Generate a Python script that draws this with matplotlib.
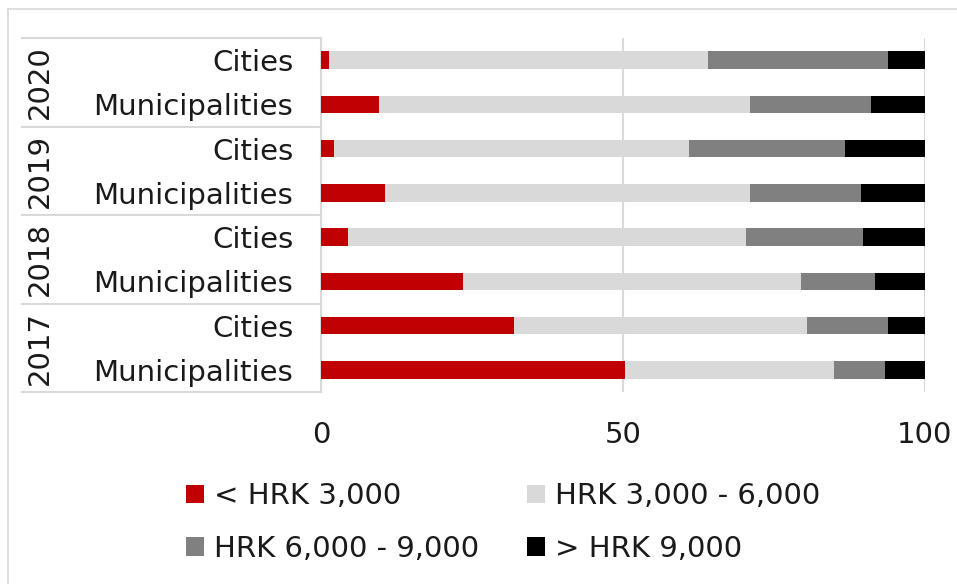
import matplotlib
matplotlib.use("Agg")
import matplotlib.pyplot as plt
from matplotlib.patches import Patch
from matplotlib.lines import Line2D

plt.rcParams['font.family'] = ['DejaVu Sans']

years = ["2020", "2019", "2018", "2017"]
types = ["Cities", "Municipalities"]
series_names = ["< HRK 3,000", "HRK 3,000 - 6,000", "HRK 6,000 - 9,000", "> HRK 9,000"]
colors = ["#c00000", "#d9d9d9", "#808080", "#000000"]

# rows top -> bottom: 2020 Cities, 2020 Munic, 2019 Cities, ...
below_3000 = [1.4, 9.6, 2.2, 10.6, 4.5, 23.5, 31.9, 50.3]
from_3000_6000 = [62.6, 61.4, 58.7, 60.4, 65.8, 55.9, 48.5, 34.7]
from_6000_9000 = [29.8, 20.1, 25.8, 18.4, 19.5, 12.4, 13.4, 8.4]
above_9000 = [6.2, 8.9, 13.3, 10.6, 10.2, 8.2, 6.2, 6.6]
series = [below_3000, from_3000_6000, from_6000_9000, above_9000]

W, H = 957, 584
FS = 21
fig = plt.figure(figsize=(W / 100, H / 100), dpi=100)

def fx(px):
    return px / W

def fy(py):
    return 1 - py / H

# outer border (top and left visible)
fig.add_artist(Line2D([fx(8), 1], [fy(9), fy(9)], color="#d9d9d9", lw=1.2))
fig.add_artist(Line2D([fx(8), fx(8)], [fy(9), 0], color="#d9d9d9", lw=1.2))

ax = fig.add_axes([fx(321), fy(392), fx(925) - fx(321), fy(38) - fy(392)])

n = len(below_3000)
ypos = list(range(n))
left = [0.0] * n
for vals, c, name in zip(series, colors, series_names):
    ax.barh(ypos, vals, left=left, height=0.4, color=c, label=name, zorder=3)
    left = [l + v for l, v in zip(left, vals)]

ax.set_ylim(n - 0.5, -0.5)
ax.set_xlim(0, 100)
ax.set_xticks([0, 50, 100])
ax.set_xticklabels(["0", "50", "100"])
row_labels = [t for y in years for t in types]
ax.set_yticks(ypos)
ax.set_yticklabels(row_labels)
ax.tick_params(axis='both', length=0, labelsize=FS)
ax.tick_params(axis='x', pad=21)
ax.tick_params(axis='y', pad=20)
for lbl in ax.get_yticklabels() + ax.get_xticklabels():
    lbl.set_color("#1a1a1a")
ax.grid(axis='x', color="#d9d9d9", lw=1.5, zorder=0)
for s in ["top", "right", "bottom"]:
    ax.spines[s].set_visible(False)
ax.spines["left"].set_color("#d9d9d9")
ax.spines["left"].set_linewidth(1.5)

# group separators and year labels
xl = (22 - 321) / (925 - 321)
trans = ax.get_yaxis_transform()
for g in range(len(years) + 1):
    yb = g * 2 - 0.5
    ax.plot([xl, 0], [yb, yb], transform=trans, color="#d9d9d9", lw=1.5, clip_on=False)
for g, yr in enumerate(years):
    ax.text((40 - 321) / (925 - 321), g * 2 + 0.5, yr, transform=trans, rotation=90,
            ha="center", va="center", fontsize=FS, color="#1a1a1a")

handles = [Patch(facecolor=c, edgecolor="none") for c in colors]
order = [0, 2, 1, 3]
fig.legend([handles[i] for i in order], [series_names[i] for i in order],
           loc="upper left", bbox_to_anchor=(fx(160), fy(456)), ncol=2, frameon=False,
           fontsize=FS, handlelength=0.62, handleheight=0.62,
           handletextpad=0.33, columnspacing=1.65, labelspacing=0.85,
           labelcolor="#1a1a1a")

fig.savefig("out.png", dpi=100)
